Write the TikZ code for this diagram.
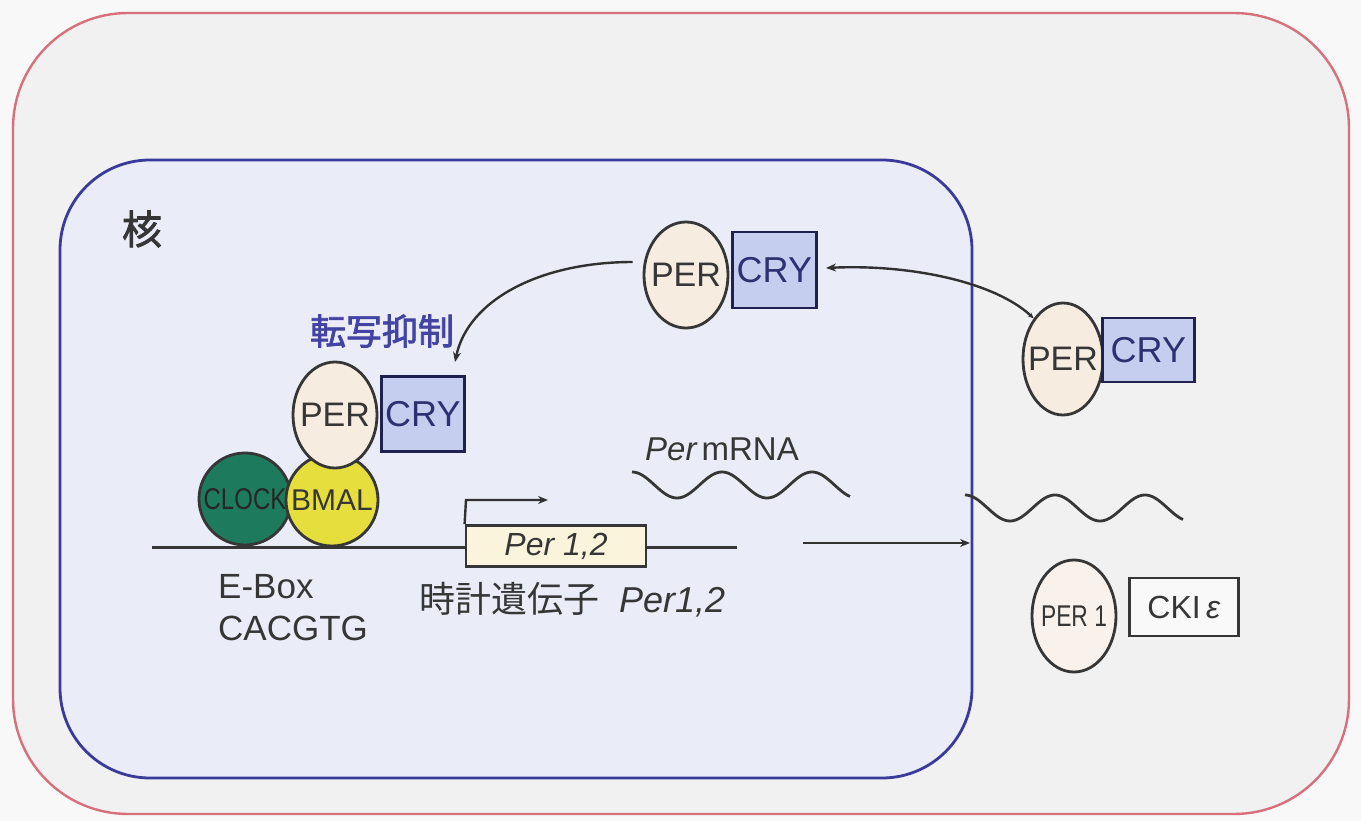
\documentclass[tikz,border=0pt]{standalone}
\usepackage{fontspec}
\setmainfont{Liberation Sans}
\newfontfamily\cjk{Noto Sans CJK JP}
\newfontfamily\cjkb[FakeBold=2]{Noto Sans CJK JP}
\usetikzlibrary{shapes.geometric,arrows.meta}
\definecolor{bgc}{HTML}{F8F8F8}
\definecolor{cellfill}{HTML}{F1F1F1}
\definecolor{celledge}{HTML}{D8707C}
\definecolor{nucfill}{HTML}{EAEDF8}
\definecolor{nucedge}{HTML}{3A3A9A}
\definecolor{perfill}{HTML}{F6ECDF}
\definecolor{per1fill}{HTML}{F8F1EC}
\definecolor{cryfill}{HTML}{C6CEF0}
\definecolor{clockfill}{HTML}{1E7A5C}
\definecolor{bmalfill}{HTML}{E6DE3C}
\definecolor{genefill}{HTML}{FAF4DC}
\definecolor{ink}{HTML}{363636}
\definecolor{cryink}{HTML}{2C3170}
\definecolor{repink}{HTML}{4343A3}
\newcommand{\zw}[1]{\makebox[0pt][c]{#1}}
\tikzset{
  perbox/.style={ellipse, draw=ink, line width=2.8pt, fill=perfill, inner sep=0pt,
     minimum width=84pt, minimum height=106pt, text=ink,
     font=\fontsize{34}{36}\selectfont},
  crybox/.style={rectangle, draw=cryink!70!black, line width=2.8pt, fill=cryfill, inner sep=0pt,
     minimum width=84pt, minimum height=76pt, text=cryink,
     font=\fontsize{36}{38}\selectfont},
  ball/.style={circle, draw=ink, line width=2.8pt, inner sep=0pt, minimum size=92pt,
     font=\fontsize{30}{32}\selectfont},
  lbl/.style={text=ink, inner sep=0pt, font=\fontsize{35}{37}\selectfont},
  conn/.style={draw=ink!90!black, line width=2.4pt},
  tip/.style={-{Stealth[length=10pt,width=8pt]}},
}
\begin{document}
\begin{tikzpicture}[x=1pt,y=-1pt]
\useasboundingbox (0,0) rectangle (1361,821);
\fill[bgc] (0,0) rectangle (1361,821);
% cell
\draw[celledge, line width=2.4pt, fill=cellfill, rounded corners=115pt] (13,13) rectangle (1349,814);
% nucleus
\draw[nucedge, line width=2.8pt, fill=nucfill, rounded corners=90pt] (60,160) rectangle (972,778);
\node[text=ink, font=\cjkb\fontsize{40}{42}\selectfont, inner sep=0pt] (kaku) at (142,229) {核};

% top complex
\node[perbox] (perA) at (686,275) {\zw{PER}};
\node[crybox, anchor=west] (cryA) at (731,270) {CRY};

% left complex on DNA
\draw[ink, line width=3pt] (152,547) coordinate (dnaL) -- (737,547) coordinate (dnaR);
\node[ball, fill=clockfill, text=black!85] (clock) at (245,499) {\zw{\scalebox{0.8}[1]{CLOCK}}};
\node[ball, fill=bmalfill, text=ink] (bmal) at (332,500) {\zw{BMAL}};
\node[perbox] (perB) at (335,415) {\zw{PER}};
\node[crybox, anchor=west, minimum width=83pt, minimum height=75pt] (cryB) at (380,414) {CRY};
\node[text=repink, font=\cjkb\fontsize{36}{38}\selectfont, inner sep=0pt] (rep) at (382,331) {転写抑制};

% gene
\node[rectangle, draw=ink, line width=2.8pt, fill=genefill, minimum width=180pt, minimum height=41pt,
   inner sep=0pt, text=ink, font=\itshape\fontsize{32}{34}\selectfont] (gene) at (556,546) {Per 1,2};
\coordinate (prom) at (466,500);
\coordinate (promEnd) at (548,500);
\draw[conn, tip] (gene.north west) -- (prom) -- (promEnd);

\node[lbl, anchor=west] (ebox) at (218,587) {E-Box};
\node[lbl, anchor=west] (cacgtg) at (218,628) {CACGTG};
\node[lbl, anchor=west, font=\fontsize{36}{38}\selectfont] (clockgene) at (419,600) {{\cjk 時計遺伝子}\hspace{20pt}\textit{Per1,2}};

% mRNA in nucleus
\node[text=ink, inner sep=0pt, anchor=west, font=\fontsize{33}{35}\selectfont] (mrna) at (645,449) {\textit{Per}\hspace{4pt}mRNA};
\draw[ink, line width=2.8pt] plot[domain=0:218, samples=120] ({632+\x},{485-13*cos(4*\x)});

% export arrow
\coordinate (expS) at (803,543);
\coordinate (expE) at (970,543);
\draw[conn, tip] (expS) -- (expE);

% cytoplasm mRNA
\draw[ink, line width=2.8pt] plot[domain=0:218, samples=120] ({965+\x},{508-13*cos(4*\x)});

% right complex
\node[perbox, minimum width=80pt, minimum height=112pt] (perC) at (1063,359) {\zw{PER}};
\node[crybox, anchor=west, minimum width=92pt, minimum height=64pt] (cryC) at (1101,350) {CRY};

% PER1 and CKI
\node[perbox, fill=per1fill, minimum width=84pt, minimum height=112pt,
   font=\fontsize{30}{32}\selectfont] (per1) at (1074,616) {\zw{\scalebox{0.76}[1]{PER 1}}};
\node[rectangle, draw=ink, line width=2.4pt, fill=white!60!cellfill, minimum width=109pt, minimum height=58pt,
   inner sep=0pt, text=ink, font=\fontsize{32}{34}\selectfont] (cki) at (1184,607) {CKI\,\textit{ε}};

% arrows
\coordinate (repT) at (455,362);
\draw[conn, tip] (perA.west) ++(-10,-13) coordinate (aS)
   .. controls (540,262) and (468,300) .. (repT);
\coordinate (impT) at (826,268);
\draw[conn, {Stealth[length=10pt,width=8pt]}-{Stealth[length=6pt,width=5pt]}] (impT)
   .. controls (910,264) and (995,282) .. (perC.north west);
\end{tikzpicture}
\end{document}
